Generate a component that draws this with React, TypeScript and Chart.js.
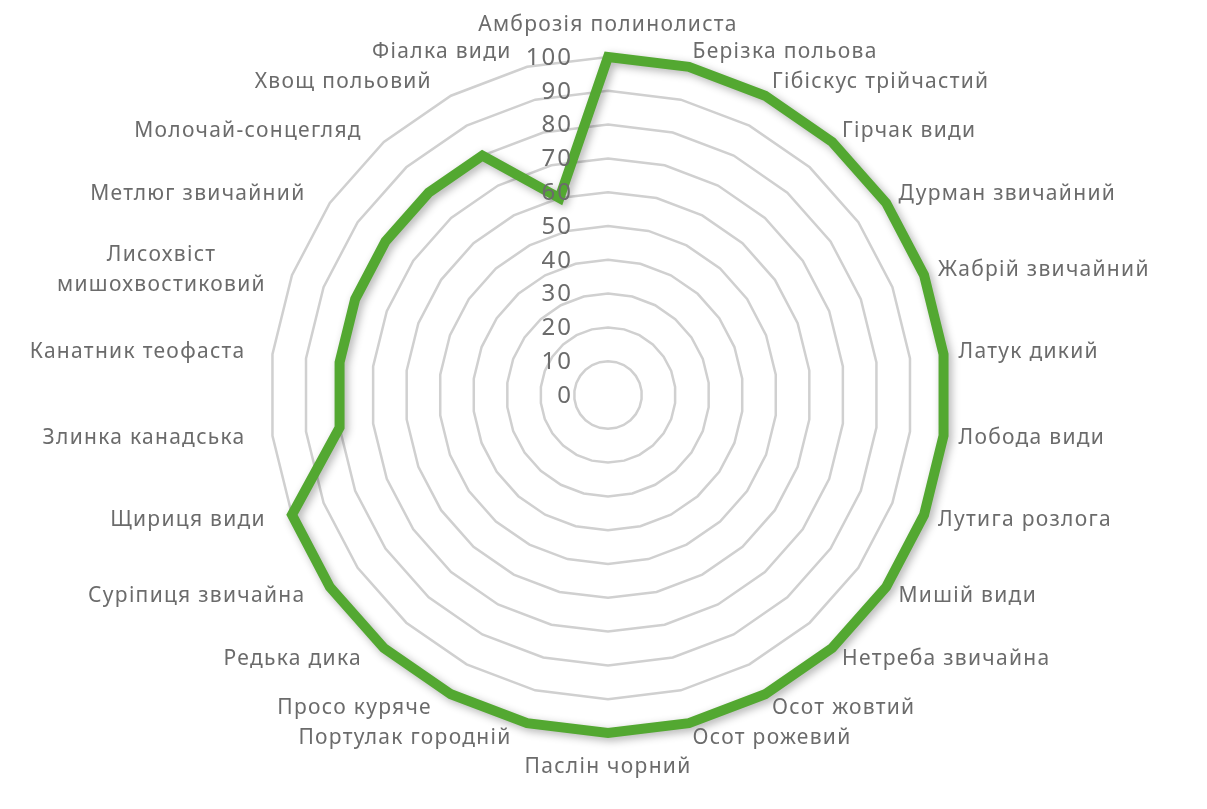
import React, { useEffect, useRef } from "react";
import { Chart, registerables } from "chart.js";

Chart.register(...registerables);

const categories: (string | string[])[] = [
  "Амброзія полинолиста",
  "Берізка польова",
  "Гібіскус трійчастий",
  "Гірчак види",
  "Дурман звичайний",
  "Жабрій звичайний",
  "Латук дикий",
  "Лобода види",
  "Лутига розлога",
  "Мишій види",
  "Нетреба звичайна",
  "Осот жовтий",
  "Осот рожевий",
  "Паслін чорний",
  "Портулак городній",
  "Просо куряче",
  "Редька дика",
  "Суріпиця звичайна",
  "Щириця види",
  "Злинка канадська",
  "Канатник теофаста",
  ["Лисохвіст", "мишохвостиковий"],
  "Метлюг звичайний",
  "Молочай-сонцегляд",
  "Хвощ польовий",
  "Фіалка види",
];

const values: number[] = [
  100, 100, 100, 100, 100, 100, 100, 100, 100, 100, 100, 100, 100, 100, 100,
  100, 100, 100, 100, 80, 80, 80, 80, 80, 80, 60,
];

const tickValues: number[] = [0, 10, 20, 30, 40, 50, 60, 70, 80, 90, 100];

const FONT = "'Noto Sans', 'Open Sans', sans-serif";
const TEXT = "#6b6b6b";

const shadowPlugin = {
  id: "lineShadow",
  beforeDatasetDraw(chart: any) {
    const ctx = chart.ctx;
    ctx.save();
    ctx.shadowColor = "rgba(0,0,0,0.3)";
    ctx.shadowBlur = 8;
    ctx.shadowOffsetX = 3;
    ctx.shadowOffsetY = 3;
  },
  afterDatasetDraw(chart: any) {
    chart.ctx.restore();
  },
};

const labelPlugin = {
  id: "excelLabels",
  afterDraw(chart: any) {
    const scale = chart.scales.r;
    const ctx = chart.ctx;
    ctx.save();
    ctx.fillStyle = TEXT;
    ctx.font = `21px ${FONT}`;
    ctx.letterSpacing = "1.3px";
    const outer = scale.getDistanceFromCenterForValue(scale.max);
    const n = categories.length;
    const lineH = 30;
    categories.forEach((label, i) => {
      const deg = (i * 360) / n;
      const lines = Array.isArray(label) ? label : [label];
      if (deg === 0) {
        const p = scale.getPointPosition(i, outer + 21);
        ctx.textAlign = "center";
        ctx.textBaseline = "bottom";
        ctx.fillText(lines[0], p.x, p.y);
        return;
      }
      if (deg === 180) {
        const p = scale.getPointPosition(i, outer + 24);
        ctx.textAlign = "center";
        ctx.textBaseline = "top";
        ctx.fillText(lines[0], p.x, p.y);
        return;
      }
      const p = scale.getPointPosition(i, outer + 15);
      ctx.textBaseline = "middle";
      const right = deg < 180;
      const maxW = Math.max(...lines.map((l) => ctx.measureText(l).width));
      const x = right ? p.x : p.x - 12;
      const y0 = p.y - ((lines.length - 1) * lineH) / 2;
      lines.forEach((l, k) => {
        if (lines.length > 1) {
          ctx.textAlign = "center";
          ctx.fillText(l, right ? x + maxW / 2 : x - maxW / 2, y0 + k * lineH);
        } else {
          ctx.textAlign = right ? "left" : "right";
          ctx.fillText(l, x, y0);
        }
      });
    });

    ctx.letterSpacing = "2px";
    ctx.font = `24px ${FONT}`;
    ctx.textAlign = "right";
    ctx.textBaseline = "middle";
    tickValues.forEach((v) => {
      const d = scale.getDistanceFromCenterForValue(v);
      ctx.fillText(String(v), scale.xCenter - 35, scale.yCenter - d + 1);
    });
    ctx.restore();
  },
};

export default function App() {
  const ref = useRef<HTMLCanvasElement>(null);
  useEffect(() => {
    if (!ref.current) return;
    const chart = new Chart(ref.current, {
      type: "radar",
      data: {
        labels: categories,
        datasets: [
          {
            data: values,
            borderColor: "#53a831",
            borderWidth: 10,
            pointRadius: 0,
            pointHoverRadius: 0,
            fill: false,
            tension: 0,
            borderJoinStyle: "miter",
          },
        ],
      },
      options: {
        animation: false,
        responsive: true,
        maintainAspectRatio: false,
        layout: { padding: { top: 57, bottom: 76, left: 9, right: 0 } },
        plugins: { legend: { display: false }, tooltip: { enabled: false } },
        scales: {
          r: {
            min: 0,
            max: 100,
            ticks: { stepSize: 10, display: false },
            grid: { color: "#d0d0d0", lineWidth: 2.5, circular: false },
            angleLines: { display: false },
            pointLabels: { display: false },
          },
        },
      },
      plugins: [shadowPlugin, labelPlugin],
    });
    return () => chart.destroy();
  }, []);
  return (
    <div
      style={{
        position: "fixed",
        left: 0,
        top: 0,
        width: 1207,
        height: 809,
        background: "#fff",
      }}
    >
      <canvas ref={ref} />
    </div>
  );
}
